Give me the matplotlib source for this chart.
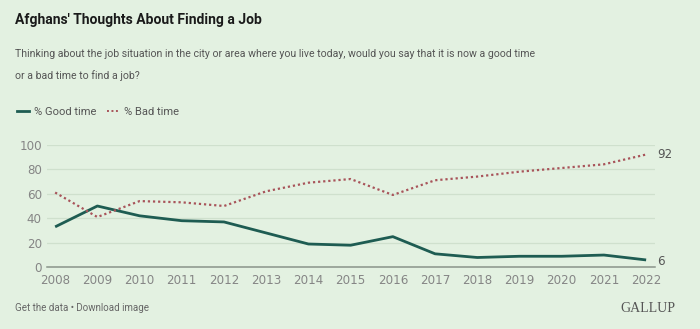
import matplotlib.pyplot as plt
from matplotlib.lines import Line2D

years = list(range(2008, 2023))
good_time = [33, 50, 42, 38, 37, 28, 19, 18, 25, 11, 8, 9, 9, 10, 6]
bad_time = [61, 41, 54, 53, 50, 62, 69, 72, 59, 71, 74, 78, 81, 84, 92]
y_ticks = [0, 20, 40, 60, 80, 100]

bg = '#e3f1e1'
good_color = '#1e5c52'
bad_color = '#a8545a'
narrow = ['Roboto', 'DejaVu Sans']

fig = plt.figure(figsize=(7, 3.29), dpi=100, facecolor=bg)
ax = fig.add_axes([46.7 / 700, 61.7 / 329, (655 - 46.7) / 700, (267.3 - 144.7) / 329])
ax.set_facecolor(bg)

ax.plot(years, good_time, color=good_color, lw=2, solid_capstyle='butt', zorder=3)
ax.plot(years, bad_time, color=bad_color, lw=1.6, linestyle=(0, (1, 1.3)), zorder=3)

ax.set_xlim(2007.8, 2022.21)
ax.set_ylim(0, 100)
ax.set_yticks(y_ticks)
ax.set_xticks(years)
ax.grid(axis='y', color='#cfe0cd', lw=0.9)
ax.grid(axis='x', visible=False)
for s in ['top', 'right', 'left']:
    ax.spines[s].set_visible(False)
ax.spines['bottom'].set_color('#8a948a')
ax.spines['bottom'].set_linewidth(1.1)
ax.tick_params(axis='both', length=0, labelsize=8.6, labelcolor='#858585')
ax.tick_params(axis='x', pad=5)
ax.tick_params(axis='y', pad=3.5)

# end labels
ax.annotate(str(bad_time[-1]), (years[-1], bad_time[-1]), xytext=(8, 0),
            textcoords='offset points', va='center', fontsize=8.6, color='#555555')
ax.annotate(str(good_time[-1]), (years[-1], good_time[-1]), xytext=(8, -1),
            textcoords='offset points', va='center', fontsize=8.6, color='#555555')

fig.text(15 / 700, 1 - 20 / 329, "Afghans' Thoughts About Finding a Job", fontsize=10,
         fontweight='bold', color='#1a1a1a', va='center', family=narrow)
fig.text(15 / 700, 1 - 54 / 329,
         "Thinking about the job situation in the city or area where you live today, would you say that it is now a good time",
         fontsize=7.6, color='#555555', va='center', family=narrow)
fig.text(15 / 700, 1 - 76 / 329, "or a bad time to find a job?",
         fontsize=7.6, color='#555555', va='center', family=narrow)

handles = [Line2D([], [], color=good_color, lw=2),
           Line2D([], [], color=bad_color, lw=1.4, linestyle=(0, (1, 1.3)))]
fig.legend(handles, ['% Good time', '% Bad time'], loc='center left',
           bbox_to_anchor=(7 / 700, 1 - 112 / 329), ncol=2, frameon=False,
           handlelength=1.1, handletextpad=0.4, columnspacing=1.0,
           labelcolor='#555555', prop={'family': narrow, 'size': 8})

fig.text(15 / 700, 1 - 308 / 329, "Get the data • Download image", fontsize=7,
         color='#666666', va='center', family=narrow)
fig.text(675 / 700, 1 - 308 / 329, "GALLUP", fontsize=10, color='#555555',
         va='center', ha='right', family=['Liberation Serif', 'DejaVu Serif'])

fig.savefig('out.png', dpi=100, facecolor=bg)
